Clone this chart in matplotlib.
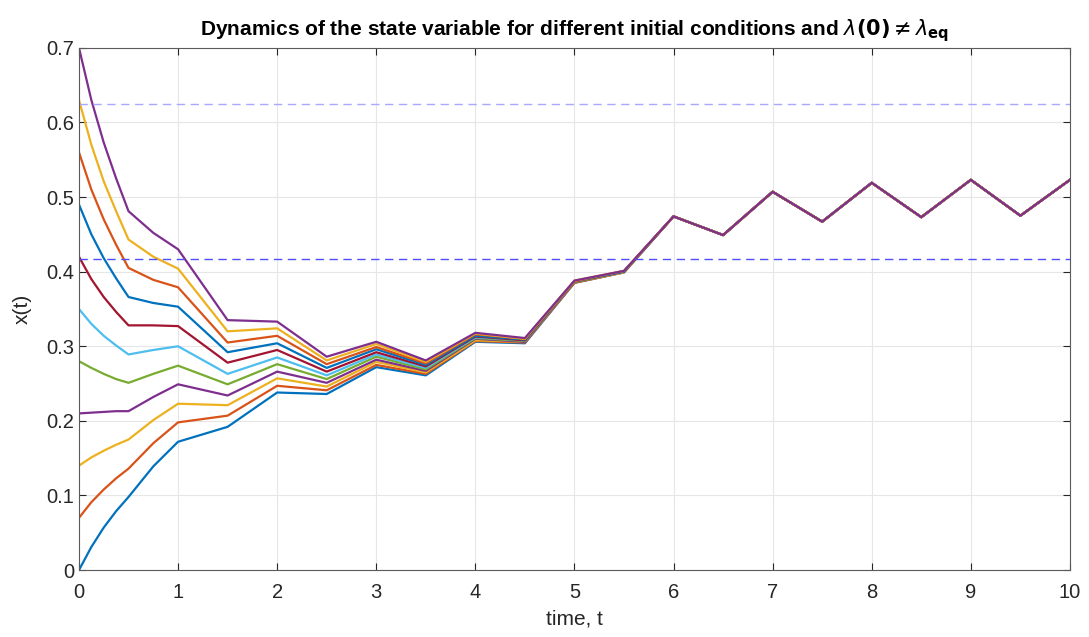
import matplotlib
matplotlib.use('Agg')
import matplotlib.pyplot as plt
import numpy as np

plt.rcParams['font.family'] = ['Liberation Sans', 'DejaVu Sans']
plt.rcParams['mathtext.fontset'] = 'dejavusans'

# time grid for the part where the curves differ, and for the common tail
t_head = [0, 0.125, 0.25, 0.375, 0.5, 0.75, 1, 1.5, 2, 2.5, 3, 3.5, 4, 4.5, 5, 5.5]
t_tail = [6, 6.5, 7, 7.5, 8, 8.5, 9, 9.5, 10]

x0_00 = [0.000, 0.031, 0.057, 0.079, 0.098, 0.139, 0.172, 0.192, 0.238, 0.236, 0.272, 0.261, 0.306, 0.304, 0.385, 0.399]
x0_07 = [0.070, 0.091, 0.108, 0.123, 0.136, 0.170, 0.198, 0.207, 0.247, 0.241, 0.275, 0.263, 0.307, 0.305, 0.385, 0.399]
x0_14 = [0.140, 0.151, 0.160, 0.168, 0.175, 0.201, 0.223, 0.221, 0.257, 0.246, 0.279, 0.265, 0.308, 0.306, 0.386, 0.399]
x0_21 = [0.210, 0.211, 0.212, 0.213, 0.213, 0.232, 0.249, 0.234, 0.266, 0.251, 0.282, 0.267, 0.310, 0.306, 0.386, 0.400]
x0_28 = [0.280, 0.271, 0.263, 0.256, 0.251, 0.263, 0.274, 0.249, 0.276, 0.256, 0.286, 0.269, 0.311, 0.307, 0.386, 0.400]
x0_35 = [0.350, 0.330, 0.314, 0.301, 0.289, 0.295, 0.300, 0.263, 0.285, 0.261, 0.289, 0.271, 0.312, 0.308, 0.387, 0.400]
x0_42 = [0.420, 0.390, 0.366, 0.346, 0.328, 0.328, 0.327, 0.278, 0.295, 0.266, 0.292, 0.273, 0.313, 0.308, 0.387, 0.400]
x0_49 = [0.490, 0.450, 0.418, 0.391, 0.366, 0.358, 0.353, 0.292, 0.304, 0.271, 0.296, 0.275, 0.314, 0.309, 0.387, 0.400]
x0_56 = [0.560, 0.510, 0.470, 0.436, 0.405, 0.389, 0.379, 0.305, 0.314, 0.276, 0.299, 0.277, 0.316, 0.310, 0.387, 0.401]
x0_63 = [0.630, 0.570, 0.521, 0.481, 0.443, 0.420, 0.404, 0.320, 0.324, 0.281, 0.303, 0.279, 0.317, 0.310, 0.388, 0.401]
x0_70 = [0.700, 0.630, 0.573, 0.525, 0.481, 0.452, 0.430, 0.335, 0.333, 0.286, 0.306, 0.281, 0.318, 0.311, 0.388, 0.401]

x_tail = [0.474, 0.449, 0.507, 0.467, 0.519, 0.473, 0.523, 0.475, 0.523]

x_low = 0.417
x_high = 0.625

curves = [x0_00, x0_07, x0_14, x0_21, x0_28, x0_35, x0_42, x0_49, x0_56, x0_63, x0_70]
colors = ['#0072BD', '#D95319', '#EDB120', '#7E2F8E', '#77AC30', '#4DBEEE', '#A2142F']

fig = plt.figure(figsize=(10.89, 6.37), dpi=100)
ax = fig.add_axes([0.0725, 0.105, 0.91, 0.82])

t_all = np.array(t_head + t_tail)
for i, head in enumerate(curves):
    ax.plot(t_all, np.array(head + x_tail), color=colors[i % len(colors)], lw=1.6)

ax.axhline(x_high, color='#a8a8ff', lw=1, dashes=(6, 4))
ax.axhline(x_low, color='#4f4fff', lw=1, dashes=(6, 4))

ax.set_xlim(0, 10)
ax.set_ylim(0, 0.7)
ax.set_xticks(np.arange(0, 11, 1))
ax.set_yticks(np.arange(0, 0.71, 0.1))
ax.set_yticklabels(['0', '0.1', '0.2', '0.3', '0.4', '0.5', '0.6', '0.7'])
ax.grid(True, color='#e6e6e6', lw=0.8)
ax.set_axisbelow(True)
for s in ax.spines.values():
    s.set_color('#5a5a5a')
    s.set_linewidth(0.8)
ax.tick_params(direction='in', length=5, colors='#262626', labelsize=14.5, top=True, right=True,
               labeltop=False, labelright=False)
ax.tick_params(axis='x', pad=9)

ax.set_xlabel('time, t', fontsize=15, color='#262626', labelpad=6)
ax.set_ylabel('x(t)', fontsize=15, color='#262626', labelpad=10)
ax.set_title(r'Dynamics of the state variable for different initial conditions and $\lambda\mathbf{(0)}\neq\lambda_{\mathbf{eq}}$',
             fontsize=15, fontweight='bold', pad=9)

fig.savefig('out.png', dpi=100)
